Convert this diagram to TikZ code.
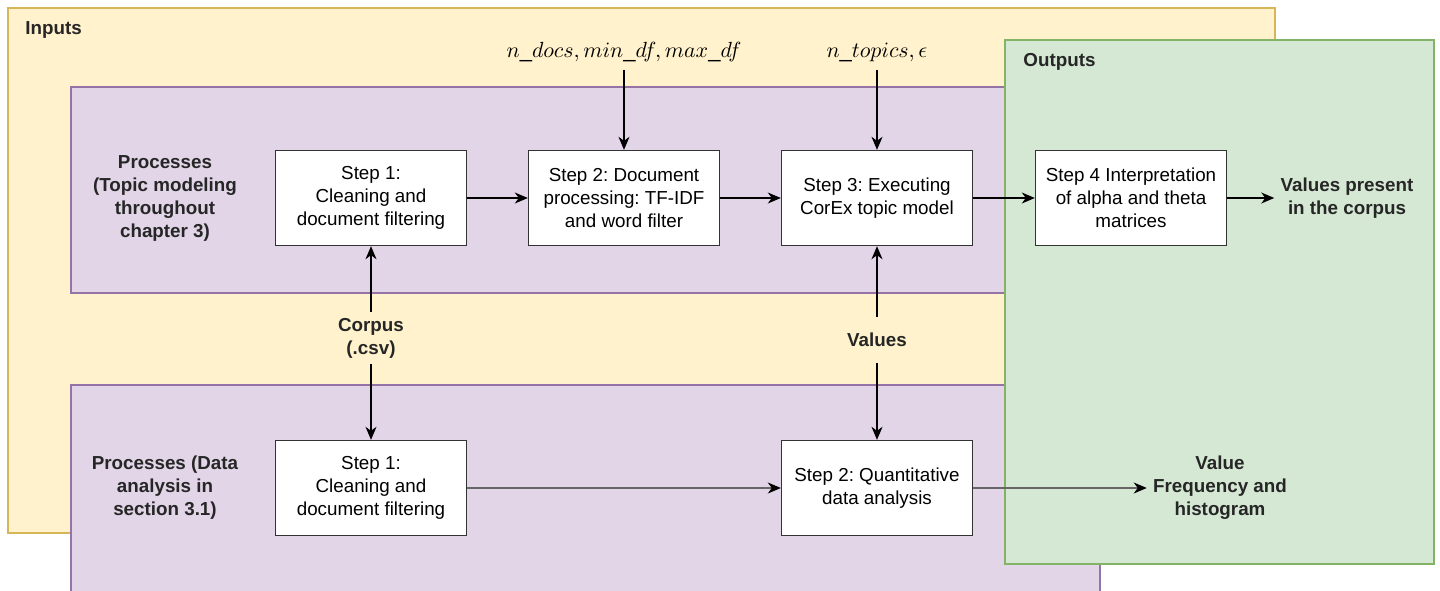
\documentclass[tikz,border=0pt]{standalone}
\usepackage{fontspec}
\setmainfont{Liberation Sans}
\usetikzlibrary{arrows.meta}
\frenchspacing
\tikzset{stepbox/.style = {draw = black!80, fill = white, line width = 0.7pt, minimum width = 95.5pt, minimum height = 47.5pt, align = center, inner sep = 2pt, font = \fontsize{9.4}{11.5}\selectfont}}
\tikzset{lbl/.style = {align = center, inner sep = 3pt, text = black!85, font = \fontsize{9.4}{11.5}\selectfont\bfseries}}
\tikzset{mathlbl/.style = {inner sep = 4pt, font = \fontsize{11}{13}\selectfont}}
\tikzset{flow/.style = {line width = 0.6pt, -{Stealth[length = 6.5pt, width = 5.5pt, inset = 2pt]}}}
\tikzset{faint/.style = {draw = black!60, -{Stealth[length = 6.5pt, width = 5.5pt, inset = 2pt, black]}}}
\definecolor{infill}{HTML}{FFF2CC}
\definecolor{inline}{HTML}{D6B656}
\definecolor{procfill}{HTML}{E1D5E7}
\definecolor{procline}{HTML}{9673A6}
\definecolor{outfill}{HTML}{D5E8D4}
\definecolor{outline}{HTML}{82B366}

\begin{document}
\begin{tikzpicture}[x = 0.5pt, y = -0.5pt]

      \useasboundingbox (0, 0) rectangle (1440, 590);
      \clip (0, 0) rectangle (1440, 590);

      \draw [fill = infill, draw = inline, line width = 0.6pt] (8, 8) rectangle (1275, 533);
      \draw [fill = procfill, draw = procline, line width = 0.6pt] (71, 87) rectangle (1100, 293);
      \draw [fill = procfill, draw = procline, line width = 0.6pt] (71, 385) rectangle (1100, 600);
      \draw [fill = outfill, draw = outline, line width = 0.6pt] (1005, 40) rectangle (1434, 564);

      \node [lbl, anchor = west, inner sep = 0] (inputs) at (25, 30) {Inputs};
      \node [lbl, anchor = west, inner sep = 0] (outputs) at (1023, 62) {Outputs};

      \node [lbl] (proctop) at (165, 198) {Processes\\(Topic modeling\\throughout\\chapter 3)};
      \node [lbl] (procdata) at (165, 488) {Processes (Data\\analysis in\\section 3.1)};

      \node [stepbox] (step1) at (371, 198) {Step 1:\\Cleaning and\\document filtering};
      \node [stepbox] (step2) at (624, 198) {Step 2: Document\\processing: TF-IDF\\and word filter};
      \node [stepbox] (step3) at (877, 198) {Step 3: Executing\\CorEx topic model};
      \node [stepbox] (step4) at (1131, 198) {Step 4 Interpretation\\of alpha and theta\\matrices};
      \node [lbl] (present) at (1347, 198) {Values present\\in the corpus};

      \node [stepbox] (clean) at (371, 488) {Step 1:\\Cleaning and\\document filtering};
      \node [stepbox] (quant) at (877, 488) {Step 2: Quantitative\\data analysis};
      \node [lbl] (freq) at (1220, 488) {Value\\Frequency and\\histogram};

      \node [lbl] (corpus) at (371, 338) {Corpus\\(.csv)};
      \node [lbl, inner sep = 8pt] (values) at (877, 340) {Values};

      \node [mathlbl] (params) at (624, 52) {$n\_docs, min\_df, max\_df$};
      \node [mathlbl] (topics) at (877, 52) {$n\_topics, \epsilon$};

      \draw [flow] (params) -- (step2);
      \draw [flow] (topics) -- (step3);
      \draw [flow] (step1) -- (step2);
      \draw [flow] (step2) -- (step3);
      \draw [flow] (step3) -- (step4);
      \draw [flow] (step4) -- (present);
      \draw [flow] (corpus) -- (step1);
      \draw [flow] (corpus) -- (clean);
      \draw [flow] (values) -- (step3);
      \draw [flow] (values) -- (quant);
      \draw [flow, faint] (clean) -- (quant);
      \draw [flow, faint] (quant) -- (freq);

    \end{tikzpicture}
\end{document}
